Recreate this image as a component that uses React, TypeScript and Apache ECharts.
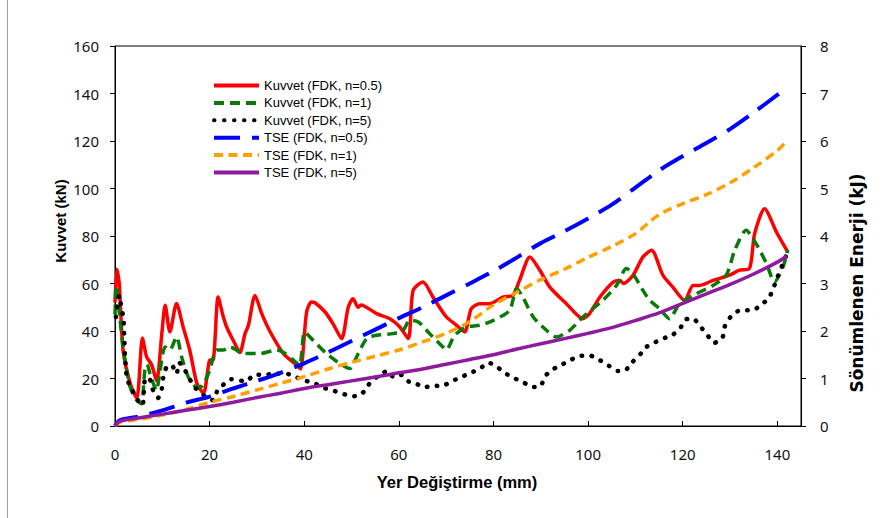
import React, { useEffect, useRef } from "react";
import * as echarts from "echarts";

// ---- Data (x: Yer Değiştirme mm) ----
const legendNames = [
  "Kuvvet (FDK, n=0.5)",
  "Kuvvet (FDK, n=1)",
  "Kuvvet (FDK, n=5)",
  "TSE (FDK, n=0.5)",
  "TSE (FDK, n=1)",
  "TSE (FDK, n=5)",
];

// Kuvvet (kN)
const forceN05: number[][] = [
  [0, 52], [0.4, 66], [0.9, 60], [1.7, 32], [3.2, 18], [4.6, 11.7], [5.8, 37], [6.7, 29], [7.7, 26], [8.8, 19],
  [9.9, 39], [10.6, 50.8], [11.6, 39.6], [13, 51.6], [14.4, 41.7], [15.8, 31.9], [17.3, 18], [18.7, 13.8], [20, 27.7],
  [20.8, 28], [21.8, 54.3], [22.9, 45.9], [23.6, 41.7], [25, 36], [26.4, 31], [27.5, 39], [28.2, 42.4], [29.6, 55],
  [31, 47.4], [32.7, 40], [35.6, 30.5], [38.4, 25.6], [39.2, 24], [40.5, 48], [41.5, 52.2], [42.2, 52], [44.4, 48],
  [46.1, 43], [47.9, 36.8], [49.3, 50], [50.3, 53.6], [51.4, 50], [52, 51], [55.3, 47.3], [58.1, 45.2], [60.2, 41.7],
  [62, 36.8], [63, 57], [65.1, 60.6], [67.2, 54.3], [70, 46], [72.2, 42.4], [73.9, 39.6], [75.3, 49.4], [77.1, 51.5],
  [79.2, 51.5], [82, 54.3], [84.1, 55], [85.5, 61.3], [87.7, 71.2], [89.8, 65.6], [91.9, 58.5], [95.4, 51.5],
  [98.9, 45.2], [100.3, 47.3], [102.5, 54.3], [105.3, 60.6], [106.7, 61.3], [107.5, 60], [109.5, 63.5], [111.6, 71.2],
  [113.4, 74], [115.8, 63.5], [117.9, 58.5], [120.4, 52.9], [122.2, 59.2], [123.6, 59.2], [126.4, 61.3], [129.9, 63.5],
  [132, 65.6], [134.1, 66.3], [135.2, 81], [137.3, 91.5], [139.8, 81.7], [142.2, 73.3],
];

const forceN1: number[][] = [
  [0, 47], [0.3, 59], [1, 46], [1.8, 32], [3.2, 16.4], [4.6, 10.8], [5.6, 9.4], [6.3, 23.4], [6.8, 26], [7.4, 22],
  [8.8, 15], [9.2, 19], [10.6, 33.3], [11.6, 32], [13, 37.5], [14.1, 29], [15.5, 20.6], [17.3, 16.4], [18.5, 17],
  [20, 23.4], [21.5, 32], [22.9, 32], [24.3, 33.3], [27.1, 30.5], [30.6, 30.5], [34.2, 32], [36, 30.5], [37.7, 27.7],
  [39, 25.5], [40.1, 39.6], [41.9, 36], [44.7, 30.5], [47.5, 26.3], [49.6, 24.2], [51.4, 30.5], [53.2, 36.8],
  [55.3, 38.2], [58.8, 38.9], [60.9, 40.3], [62.3, 44.5], [64.1, 43.8], [66.5, 38.9], [69.3, 33.3], [70, 32],
  [71.8, 38.2], [74.3, 41.7], [77.1, 42.4], [80, 44.5], [83.4, 48.7], [84.9, 57.9], [86.2, 54.3], [88.4, 45.9],
  [91.2, 40.3], [93.3, 37.5], [96.1, 40.3], [98.9, 45.9], [103.1, 52.9], [106, 59.2], [108.1, 66.3], [109.5, 64],
  [111.6, 57.1], [113, 53], [115.1, 49.4], [117.2, 45.2], [119.3, 51.5], [122.2, 55], [126.4, 59.2], [129.2, 63.5],
  [131, 74], [133.4, 82.4], [135.5, 76.8], [137.7, 68.4], [139.4, 60.6], [141.2, 67], [142.2, 74],
];

const forceN5: number[][] = [
  [0.2, 45.9], [0.9, 55], [1.3, 50.4], [1.8, 45.2], [1.9, 40.3], [2, 35.4], [2.1, 29.8], [2.3, 24.8], [2.5, 20],
  [3.5, 15.7], [4.6, 11.5], [5.8, 8.7], [6.1, 13.9], [6.3, 19.2], [7.2, 20.4], [7.9, 15.7], [9.1, 11.8], [9.9, 15.7],
  [10.2, 20.4], [10.9, 24.8], [12, 25.6], [13, 22], [13.6, 26.7], [14.6, 24.2], [15.7, 20], [17, 16], [18.8, 12.9],
  [20.8, 10.8], [21.6, 14.7], [23.2, 17.9], [24.6, 19.7], [27.8, 18.8], [29.4, 21.6], [31.5, 21.6], [33.8, 22],
  [35.8, 22.3], [37.9, 20.9], [39.9, 19.2], [41.9, 18.3], [43.9, 16.2], [46, 15], [48.1, 13.6], [50.2, 12.5],
  [52, 13.2], [53.4, 16.7], [54.4, 19.5], [56, 21.3], [57.5, 23.2], [59, 20.4], [60.6, 21.5], [62.1, 18.7],
  [63.6, 17.9], [65.3, 16.2], [67.2, 17.1], [69, 16.7], [71.1, 18.8], [73, 20.4], [75, 22.3], [77, 23.9],
  [78.9, 26.7], [80.6, 25.1], [82.4, 22.3], [84.3, 20.2], [86.4, 18.3], [88.2, 16.4], [89.9, 16.7], [91, 21.2],
  [92.6, 23.9], [94.6, 26], [96.5, 28], [98.4, 29.6], [100.5, 29.6], [102.5, 27.7], [104.4, 25.3], [106.3, 23.2],
  [107.9, 23.5], [109.4, 27], [110.8, 29.6], [112.1, 33], [113.9, 35], [115.8, 36.8], [117.7, 38.2], [119.3, 40.6],
  [120.6, 44.9], [122.2, 45.2], [123.7, 42], [125.1, 38.5], [126.7, 35], [128.4, 37.2], [128.9, 42], [130.1, 45.9],
  [131.7, 48.4], [133.1, 48.7], [134.8, 48.7], [136.6, 51.1], [138.2, 53.8], [139.2, 58.3], [140.1, 63], [141.9, 71.9],
];

// Sönümlenen Enerji (kJ)
const energyX = [0, 1, 5, 10, 15, 20, 25, 30, 35, 40, 45, 50, 55, 60, 65, 70, 75, 80, 85, 90, 95, 100, 105, 110, 115, 120, 125, 130, 135, 140, 142];
const energyN05 = [0, 0.12, 0.2, 0.33, 0.49, 0.62, 0.79, 0.95, 1.12, 1.32, 1.55, 1.79, 2.03, 2.27, 2.5, 2.75, 3.0, 3.26, 3.55, 3.85, 4.1, 4.37, 4.66, 5.02, 5.38, 5.68, 5.96, 6.25, 6.6, 6.97, 7.12];
const energyN1 = [0, 0.08, 0.14, 0.23, 0.35, 0.5, 0.62, 0.76, 0.9, 1.04, 1.2, 1.34, 1.47, 1.6, 1.77, 1.95, 2.2, 2.55, 2.82, 3.08, 3.3, 3.55, 3.78, 4.05, 4.45, 4.68, 4.87, 5.12, 5.44, 5.8, 6.0];
const energyN5 = [0, 0.1, 0.17, 0.25, 0.33, 0.41, 0.5, 0.6, 0.69, 0.79, 0.87, 0.95, 1.03, 1.12, 1.2, 1.3, 1.4, 1.5, 1.62, 1.73, 1.84, 1.95, 2.07, 2.22, 2.38, 2.58, 2.78, 2.98, 3.2, 3.45, 3.58];

const xTitle = "Yer Değiştirme (mm)";
const yLeftTitle = "Kuvvet (kN)";
const yRightTitle = "Sönümlenen Enerji (kJ)";

const zip = (xs: number[], ys: number[]) => xs.map((x, i) => [x, ys[i]]);

export default function App() {
  const ref = useRef<HTMLDivElement>(null);

  useEffect(() => {
    if (!ref.current) return;
    const chart = echarts.init(ref.current, undefined, { renderer: "svg" });

    const labelStyle = {
      fontFamily: "Noto Sans",
      fontSize: 15,
      color: "#111",
    };

    const option: any = {
      animation: false,
      backgroundColor: "#ffffff",
      grid: {
        left: 115,
        top: 46,
        width: 686,
        height: 380,
        show: true,
        borderColor: "#000",
        borderWidth: 1,
        containLabel: false,
      },
      legend: {
        orient: "vertical",
        left: 207,
        top: 74,
        itemWidth: 45,
        itemHeight: 14,
        itemGap: 4.4,
        data: legendNames,
        textStyle: { fontFamily: "Liberation Sans", fontSize: 13, color: "#000" },
        lineStyle: { width: 4 },
        itemStyle: { opacity: 0, borderWidth: 0, color: "rgba(0,0,0,0)" },
        selectedMode: false,
      },
      xAxis: {
        type: "value",
        min: 0,
        max: 145,
        interval: 20,
        axisLine: { show: true, lineStyle: { color: "#000", width: 1 } },
        axisTick: { show: true, inside: true, length: 5, lineStyle: { color: "#000" } },
        axisLabel: {
          ...labelStyle,
          margin: 20,
          formatter: (v: number) => (v % 20 === 0 ? String(v) : ""),
        },
        splitLine: { show: false },
      },
      yAxis: [
        {
          type: "value",
          position: "left",
          min: 0,
          max: 160,
          interval: 20,
          axisLine: { show: true, lineStyle: { color: "#000", width: 1 } },
          axisTick: { show: true, inside: false, length: 5, lineStyle: { color: "#000" } },
          axisLabel: { ...labelStyle, margin: 16 },
          splitLine: { show: false },
        },
        {
          type: "value",
          position: "right",
          min: 0,
          max: 8,
          interval: 1,
          axisLine: { show: true, lineStyle: { color: "#000", width: 1 } },
          axisTick: { show: true, inside: false, length: 5, lineStyle: { color: "#000" } },
          axisLabel: { ...labelStyle, margin: 19 },
          splitLine: { show: false },
        },
      ],
      series: [
        {
          name: legendNames[0],
          type: "line",
          yAxisIndex: 0,
          data: forceN05,
          symbol: "none",
          smooth: 0.25,
          color: "#ff0000",
          lineStyle: { color: "#ff0000", width: 3.5, type: "solid" },
          z: 3,
        },
        {
          name: legendNames[1],
          type: "line",
          yAxisIndex: 0,
          data: forceN1,
          symbol: "none",
          smooth: 0.25,
          color: "#087a08",
          lineStyle: { color: "#087a08", width: 3.5, type: [10, 6] },
          z: 3,
        },
        {
          name: legendNames[2],
          type: "line",
          yAxisIndex: 0,
          data: forceN5,
          symbol: "none",
          smooth: 0.2,
          color: "#000000",
          lineStyle: { color: "#000000", width: 4.5, type: [0.5, 9.5], cap: "round" },
          z: 3,
        },
        {
          name: legendNames[3],
          type: "line",
          yAxisIndex: 1,
          data: zip(energyX, energyN05),
          symbol: "none",
          smooth: 0.3,
          color: "#0000ff",
          lineStyle: { color: "#0000ff", width: 4, type: [26, 12] },
          z: 3,
        },
        {
          name: legendNames[4],
          type: "line",
          yAxisIndex: 1,
          data: zip(energyX, energyN1),
          symbol: "none",
          smooth: 0.3,
          color: "#ffa000",
          lineStyle: { color: "#ffa000", width: 3.5, type: [9, 5.5] },
          z: 3,
        },
        {
          name: legendNames[5],
          type: "line",
          yAxisIndex: 1,
          data: zip(energyX, energyN5),
          symbol: "none",
          smooth: 0.3,
          color: "#8e1a9e",
          lineStyle: { color: "#8e1a9e", width: 3.5, type: "solid" },
          z: 3,
        },
      ],
      graphic: [
        {
          type: "line",
          shape: { x1: 7.5, y1: 0, x2: 7.5, y2: 518 },
          style: { stroke: "#a0a0a0", lineWidth: 1 },
          silent: true,
        },
        {
          type: "text",
          x: 60,
          y: 221,
          rotation: Math.PI / 2,
          style: {
            text: yLeftTitle,
            font: 'bold 15px "Liberation Sans"',
            fill: "#000",
            align: "center",
            verticalAlign: "middle",
            textAlign: "center",
            textVerticalAlign: "middle",
          },
        },
        {
          type: "text",
          x: 457,
          y: 482,
          style: {
            text: xTitle,
            font: 'bold 16.5px "Liberation Sans"',
            fill: "#000",
            align: "center",
            verticalAlign: "middle",
            textAlign: "center",
            textVerticalAlign: "middle",
          },
        },
        {
          type: "text",
          x: 857,
          y: 283,
          rotation: Math.PI / 2,
          style: {
            text: yRightTitle,
            font: 'bold 17px "DejaVu Sans"',
            fill: "#000",
            align: "center",
            verticalAlign: "middle",
            textAlign: "center",
            textVerticalAlign: "middle",
          },
        },
      ],
    };

    chart.setOption(option);
    return () => {
      chart.dispose();
    };
  }, []);

  return (
    <div
      ref={ref}
      style={{ position: "fixed", left: 0, top: 0, width: 889, height: 518, background: "#fff" }}
    />
  );
}
